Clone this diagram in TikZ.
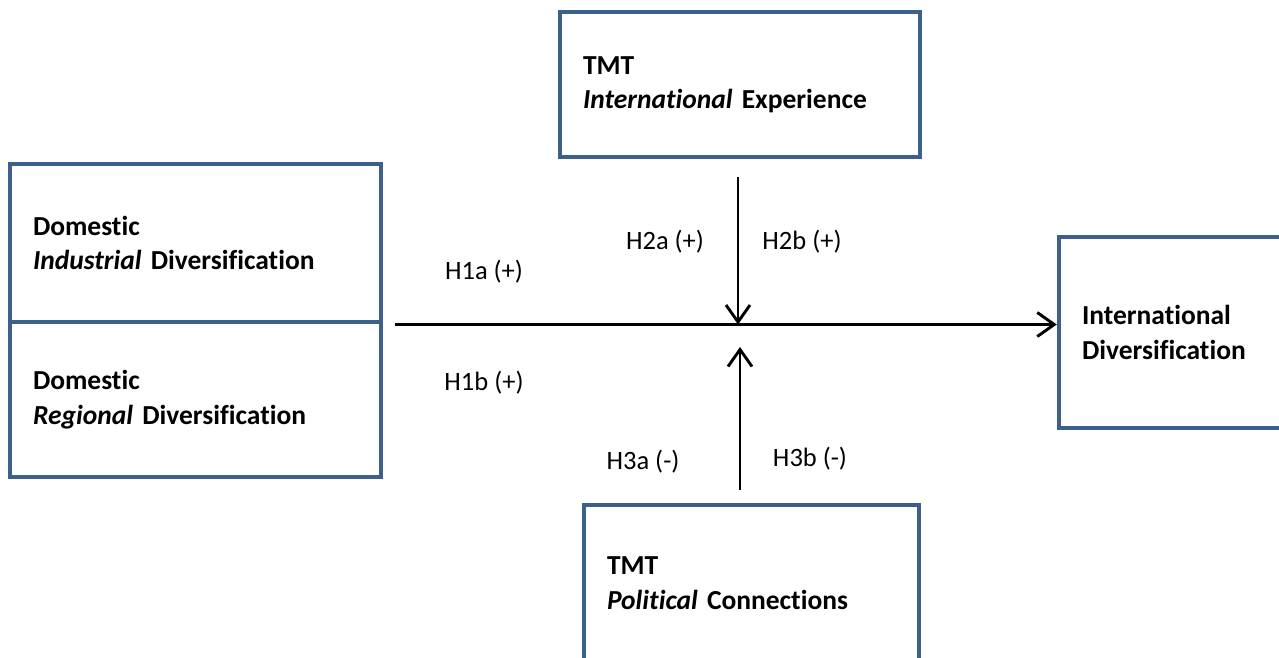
\documentclass[tikz,border=0pt]{standalone}
\usepackage{fontspec}
\setmainfont{Carlito}[Ligatures={NoCommon,NoRequired}]
\usetikzlibrary{arrows.meta}
\definecolor{boxblue}{RGB}{61,95,140}
\tikzset{
  varbox/.style={draw=boxblue, line width=4.5pt, rectangle, align=left,
    inner xsep=23pt, inner ysep=0pt, font=\fontsize{27.5}{34.5}\selectfont\bfseries},
  hyp/.style={font=\fontsize{26.5}{32}\selectfont, inner sep=0pt},
  arr/.style={line width=2.9pt, -{Straight Barb[length=17pt,width=24pt,line width=2.9pt]}}
}
\begin{document}
\begin{tikzpicture}[x=1pt,y=-1pt]
\useasboundingbox (0,0) rectangle (1279,657);
\clip (0,0) rectangle (1279,657);
\node[varbox, minimum width=360pt, minimum height=145pt, text width=314pt] (intl) at (740,84.5)
  {TMT\\\textit{International} Experience};
\node[varbox, minimum width=371pt, minimum height=158pt, text width=325pt] (ind) at (195.5,243)
  {Domestic\\\textit{Industrial} Diversification};
\node[varbox, minimum width=371pt, minimum height=155pt, text width=325pt] (reg) at (195.5,399.5)
  {Domestic\\\textit{Regional} Diversification};
\node[varbox, minimum width=225pt, minimum height=191pt, text width=179pt] (idiv) at (1171.5,332.5)
  {International\\Diversification};
\node[varbox, minimum width=335pt, minimum height=156pt, text width=289pt] (pol) at (751.5,583)
  {TMT\\\textit{Political} Connections};
\coordinate (hs) at (395,324.5);
\coordinate (m) at (738,324.5);
\coordinate (d0) at (738,177);
\coordinate (u0) at (740,490);
\coordinate (u1) at (740,347);
\draw[arr] (hs) -- (hs -| idiv.west);
\draw[arr] (d0) -- (m);
\draw[arr] (u0) -- (u1);
\node[hyp] (h1a) at (484,272) {H1a (+)};
\node[hyp] (h1b) at (484,383) {H1b (+)};
\node[hyp] (h2a) at (665,242) {H2a (+)};
\node[hyp] (h2b) at (802,242) {H2b (+)};
\node[hyp] (h3a) at (643,462) {H3a (-)};
\node[hyp] (h3b) at (810,459) {H3b (-)};
\end{tikzpicture}
\end{document}
